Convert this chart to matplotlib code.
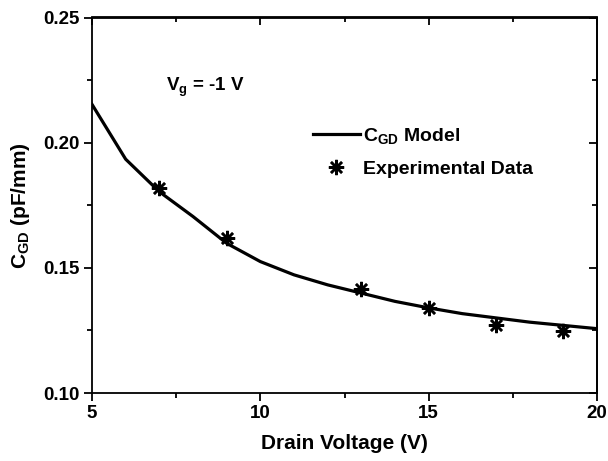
import numpy as np
import matplotlib
matplotlib.use('Agg')
import matplotlib.pyplot as plt
from matplotlib.ticker import MultipleLocator

plt.rcParams['font.family'] = 'Liberation Sans'
plt.rcParams['font.weight'] = 'bold'
plt.rcParams['axes.labelweight'] = 'bold'
plt.rcParams['mathtext.fontset'] = 'custom'
plt.rcParams['mathtext.rm'] = 'Liberation Sans:bold'
plt.rcParams['mathtext.bf'] = 'Liberation Sans:bold'
plt.rcParams['mathtext.it'] = 'Liberation Sans:bold'

# model curve
model_v = [5, 6, 7, 8, 9, 10, 11, 12, 13, 14, 15, 16, 17, 18, 19, 20]
model_c = [0.2153, 0.1934, 0.1804, 0.1705, 0.1598, 0.1525, 0.1472, 0.1432,
           0.1399, 0.1366, 0.1340, 0.1317, 0.1300, 0.1283, 0.1270, 0.1257]

# measured points
exp_v = [7, 9, 13, 15, 17, 19]
exp_c = [0.1820, 0.1618, 0.1415, 0.1339, 0.1273, 0.1246]

W, H = 608, 461
fig = plt.figure(figsize=(W / 100, H / 100), dpi=100)
ax = fig.add_axes([92 / W, 1 - 393 / H, (597 - 92) / W, (393 - 17.5) / H])

ax.plot(model_v, model_c, color='black', lw=2.3, label=r'C$_{\mathrm{GD}}$ Model')
ax.plot(exp_v, exp_c, ls='none', marker=(8, 2, 0), ms=11, mew=1.8,
        color='black', label='Experimental Data')

ax.set_xlim(5, 20)
ax.set_ylim(0.10, 0.25)
ax.xaxis.set_major_locator(MultipleLocator(5))
ax.xaxis.set_minor_locator(MultipleLocator(2.5))
ax.set_yticks([0.10, 0.15, 0.20, 0.25], ['0.10', '0.15', '0.20', '0.25'])
ax.yaxis.set_minor_locator(MultipleLocator(0.025))

for s in ax.spines.values():
    s.set_linewidth(1.3)
ax.tick_params(which='both', direction='out', width=1.3, labelsize=13.5, pad=3)
ax.tick_params(which='major', length=6)
ax.tick_params(which='minor', length=3.5)

# inward ticks on top and right, no labels
top = ax.secondary_xaxis('top')
top.xaxis.set_major_locator(MultipleLocator(5))
top.xaxis.set_minor_locator(MultipleLocator(2.5))
top.tick_params(which='both', direction='in', width=1.3, labeltop=False)
top.tick_params(which='major', length=6)
top.tick_params(which='minor', length=3.5)
right = ax.secondary_yaxis('right')
right.yaxis.set_major_locator(MultipleLocator(0.05))
right.yaxis.set_minor_locator(MultipleLocator(0.025))
right.tick_params(which='both', direction='in', width=1.3, labelright=False)
right.tick_params(which='major', length=6)
right.tick_params(which='minor', length=3.5)
for sp in (top, right):
    for s in sp.spines.values():
        s.set_linewidth(1.3)

ax.set_xlabel('Drain Voltage (V)', fontsize=15, labelpad=8)
ax.set_ylabel(r'C$_{\mathrm{GD}}$ (pF/mm)', fontsize=15, labelpad=8)

fig.text(166 / W, 1 - 91 / H, r'V$_{\mathrm{g}}$ = -1 V', fontsize=13.5,
         ha='left', va='baseline')

ax.legend(loc='upper left', bbox_to_anchor=(313 / W, 1 - 126 / H),
          bbox_transform=fig.transFigure,
          frameon=False, fontsize=14, handlelength=2.4, borderpad=0,
          borderaxespad=0, handletextpad=0.15, labelspacing=0.75)

fig.savefig('out.png', dpi=100)
